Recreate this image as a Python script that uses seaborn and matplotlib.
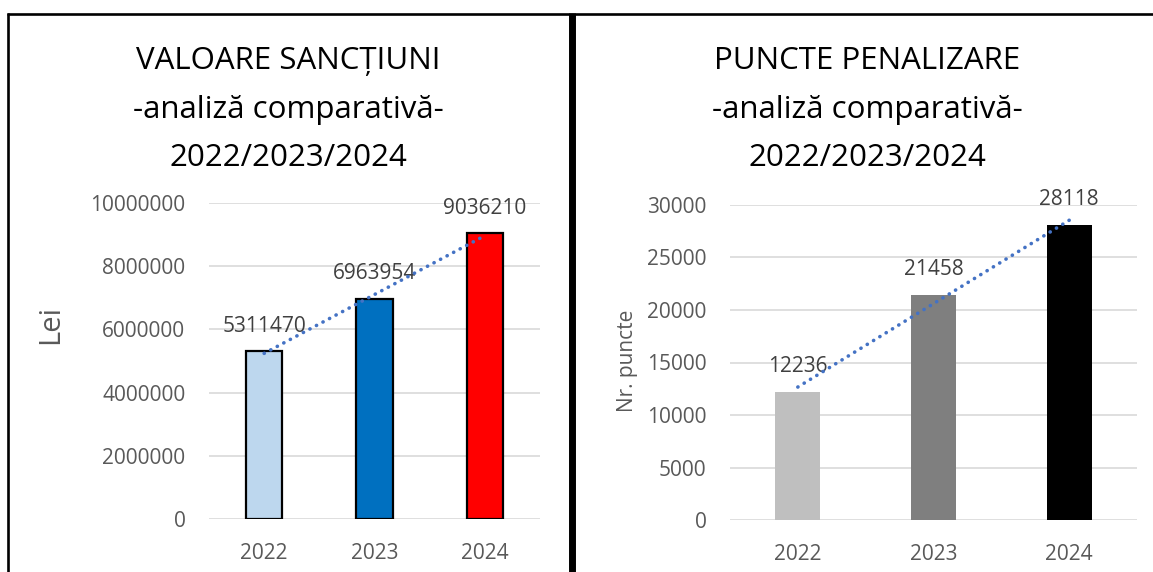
import numpy as np
import pandas as pd
import matplotlib
matplotlib.use("Agg")
import matplotlib.pyplot as plt
from matplotlib.lines import Line2D
import seaborn as sns

# ---- data ----
years = ["2022", "2023", "2024"]
lei_values = [5311470, 6963954, 9036210]
puncte_values = [12236, 21458, 28118]
lei_colors = ["#BDD7EE", "#0070C0", "#FF0000"]
puncte_colors = ["#BFBFBF", "#7F7F7F", "#000000"]
title_left = ["VALOARE SANCȚIUNI", "-analiză comparativă-", "2022/2023/2024"]
title_right = ["PUNCTE PENALIZARE", "-analiză comparativă-", "2022/2023/2024"]
lei_ticks = [0, 2000000, 4000000, 6000000, 8000000, 10000000]
puncte_ticks = [0, 5000, 10000, 15000, 20000, 25000, 30000]

sns.set_theme(style="white")
plt.rcParams["font.family"] = ["Open Sans", "DejaVu Sans"]

W, H = 1153, 572
fig = plt.figure(figsize=(W / 100, H / 100), dpi=100)


def fx(px):
    return px / W


def fy(py):
    return 1 - py / H


TICK_COLOR = "#595959"
LABEL_COLOR = "#404040"
TREND_COLOR = "#4472C4"


def make_panel(rect_px, values, colors, ticks, ylabel, ylabel_size, ylabel_xy, edge):
    x0, y_top, x1, y_bot = rect_px
    ax = fig.add_axes([fx(x0), fy(y_bot), fx(x1) - fx(x0), (y_bot - y_top) / H])
    df = pd.DataFrame({"year": years, "value": values})
    sns.barplot(data=df, x="year", y="value", hue="year", palette=colors,
                legend=False, ax=ax, width=0.33, saturation=1,
                edgecolor="black" if edge else "none",
                linewidth=1.6 if edge else 0, zorder=2)
    ax.set_ylim(ticks[0], ticks[-1])
    ax.set_xlim(-0.5, len(years) - 0.5)
    ax.set_yticks(ticks)
    ax.set_yticklabels([str(t) for t in ticks])
    ax.yaxis.grid(True, color="#D9D9D9", linewidth=1.2, zorder=0)
    ax.set_axisbelow(True)
    for s in ax.spines.values():
        s.set_visible(False)
    ax.tick_params(axis="both", length=0, labelsize=15, labelcolor=TICK_COLOR)
    ax.tick_params(axis="y", pad=17)
    ax.tick_params(axis="x", pad=17)
    ax.set_xlabel("")
    ax.set_ylabel(ylabel, fontsize=ylabel_size, color=TICK_COLOR)
    ax.yaxis.set_label_coords(*ylabel_xy)
    # data labels
    for i, v in enumerate(values):
        ax.annotate(str(v), (i, v), xytext=(0, 18), textcoords="offset points",
                    ha="center", va="center", fontsize=15, color=LABEL_COLOR,
                    zorder=4)
    # linear trendline
    xs = np.arange(len(values))
    k, b = np.polyfit(xs, values, 1)
    ax.plot(xs, k * xs + b, linestyle=(0, (0.05, 2.0)), dash_capstyle="round",
            color=TREND_COLOR, linewidth=2.6, zorder=5)
    return ax


axL = make_panel((209, 203, 540, 519), lei_values, lei_colors, lei_ticks,
                 "Lei", 21, (-0.435, 0.614), True)
axR = make_panel((730, 205, 1137, 520), puncte_values, puncte_colors, puncte_ticks,
                 "Nr. puncte", 15, (-0.226, 0.505), False)

# titles
for cx, lines in ((288, title_left), (867, title_right)):
    for by, t in zip((69, 118, 166), lines):
        fig.text(fx(cx), fy(by), t, ha="center", va="baseline", fontsize=22.5,
                 color="black")

# panel borders
fig.add_artist(Line2D([fx(7), fx(W)], [fy(13.5), fy(13.5)], transform=fig.transFigure,
                      color="black", linewidth=1.9, solid_capstyle="butt"))
fig.add_artist(Line2D([fx(8), fx(8)], [fy(13), fy(H)], transform=fig.transFigure,
                      color="black", linewidth=1.9, solid_capstyle="butt"))
fig.add_artist(Line2D([fx(571.5), fx(571.5)], [fy(12.5), fy(H)], transform=fig.transFigure,
                      color="black", linewidth=5, solid_capstyle="butt"))

fig.savefig("out.png", dpi=100)
